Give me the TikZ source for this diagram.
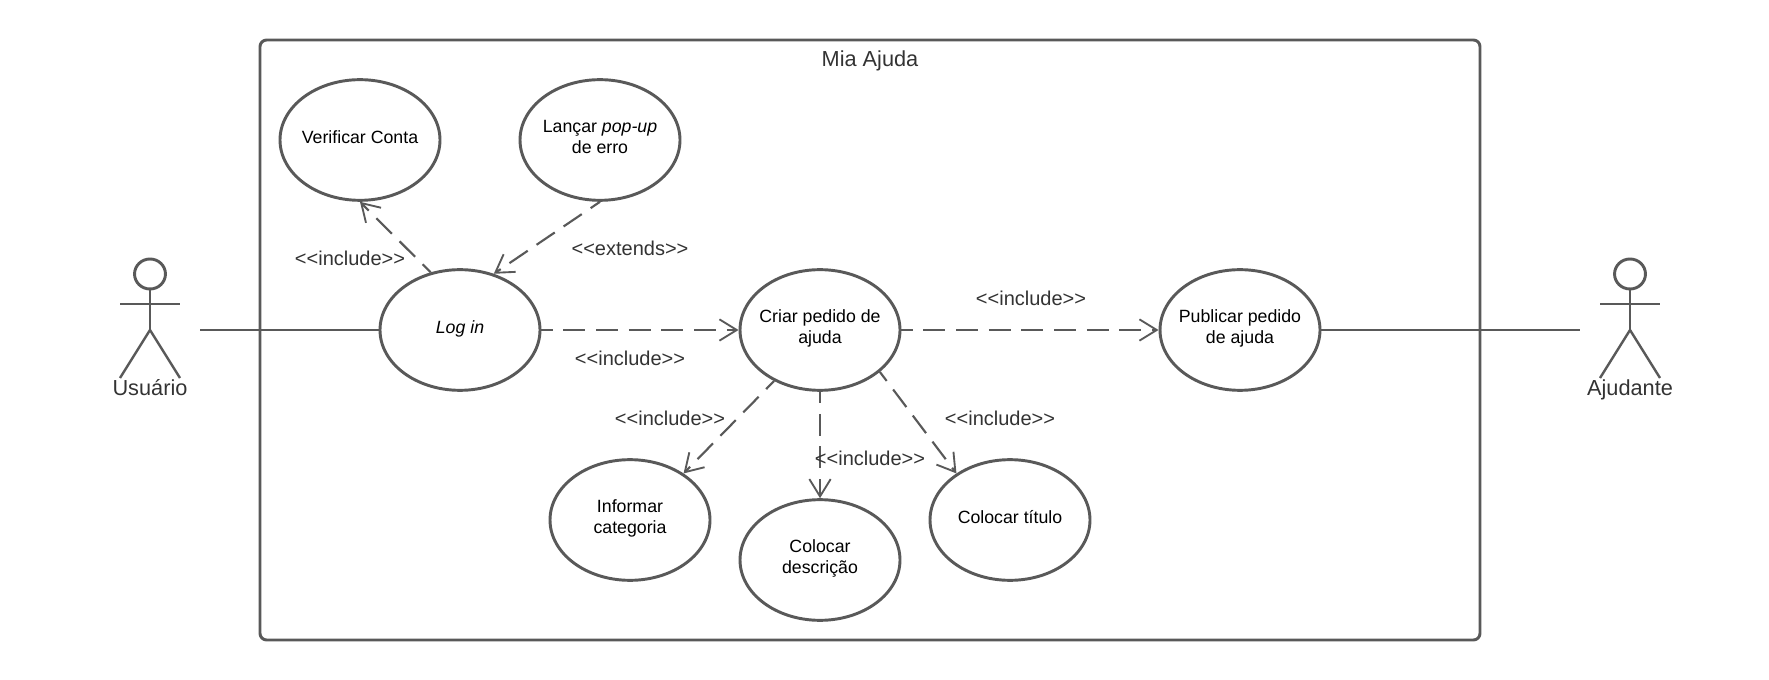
\documentclass[tikz,border=0pt]{standalone}
\usepackage{fontspec}
\setmainfont{Liberation Sans}
\usetikzlibrary{shapes.geometric,arrows.meta}
\definecolor{umlgray}{HTML}{595959}
\definecolor{labelgray}{HTML}{333333}
\tikzset{
  usecase/.style={draw=umlgray, line width=2.2pt, ellipse, fill=white, minimum width=120pt,
    minimum height=90.5pt, inner ysep=0pt, inner xsep=-12pt, align=center, text depth=5pt,
    font=\fontsize{13.3}{15.6}\selectfont},
  actorline/.style={draw=umlgray, line width=2.2pt},
  assoc/.style={draw=umlgray, line width=1.7pt},
  dep/.style={draw=umlgray, line width=1.6pt, dash pattern=on 16.5pt off 8pt, dash phase=8pt,
    -{Straight Barb[length=13pt,width=16pt,line width=1.4pt]}},
  deplabel/.style={text=labelgray, font=\fontsize{15}{18}\selectfont},
  actorlabel/.style={text=labelgray, font=\fontsize{16.3}{20}\selectfont, anchor=base}
}
\begin{document}
\begin{tikzpicture}[x=0.75pt,y=-0.75pt]
     \useasboundingbox (0,0) rectangle (1769,680);
     % System boundary
     \draw[actorline, rounded corners=5pt] (260,40) rectangle (1480,640);
     \node[actorlabel] (title) at (870,66.5) {Mia Ajuda};

     % Use cases
     \node[usecase] (verificar) at (360,140) {Verificar Conta};
     \node[usecase] (lancar) at (600,140) {Lançar \textit{pop-up}\\de erro};
     \node[usecase] (login) at (460,330) {\textit{Log in}};
     \node[usecase] (criar) at (820,330) {Criar pedido de\\ajuda};
     \node[usecase] (publicar) at (1240,330) {Publicar pedido\\de ajuda};
     \node[usecase] (informar) at (630,520) {Informar\\categoria};
     \node[usecase] (descricao) at (820,560) {Colocar\\descrição};
     \node[usecase] (titulo) at (1010,520) {Colocar título};

     % Actors, both drawn the same way
     \foreach \actor/\x/\name in {usuario/150/Usuário,ajudante/1630/Ajudante}
     {
         \draw[actorline] (\x,274) ellipse (11.6pt and 11.25pt);
         \draw[actorline] (\x,289) -- (\x,330);
         \draw[actorline] (\x-30,304) -- (\x+30,304);
         \draw[actorline, line width=1.8pt] (\x-30,378) -- (\x,330) -- (\x+30,378);
         \node[actorlabel] (\actor) at (\x,396) {\name};
     }

     % Associations with the actors
     \coordinate (usuarioend) at (200,330);
     \coordinate (ajudanteend) at (1580,330);
     \draw[assoc] (usuarioend) -- (login.west);
     \draw[assoc] (publicar.east) -- (ajudanteend);

     % Dependencies between use cases
     \draw[dep] (login.117) -- (verificar.south);
     \draw[dep] (lancar.south) -- (login.59);
     \draw[dep] (login.east) -- (criar.west);
     \draw[dep] (criar.east) -- (publicar.west);
     \draw[dep] (criar.228) -- (informar.41);
     \draw[dep] (criar.south) -- (descricao.north);
     \draw[dep] (criar.-35) -- (titulo.139);

     % Stereotype labels
     \foreach \lbl/\x/\y in {incverificar/350/258,inccriar/630/358,incpublicar/1031/298,
                             incinformar/670/418,incdescricao/870/458,inctitulo/1000/418}
         \node[deplabel] (\lbl) at (\x,\y) {<{}<include>{}>};
     \node[deplabel] (extlancar) at (630,248) {<{}<extends>{}>};
\end{tikzpicture}
\end{document}
